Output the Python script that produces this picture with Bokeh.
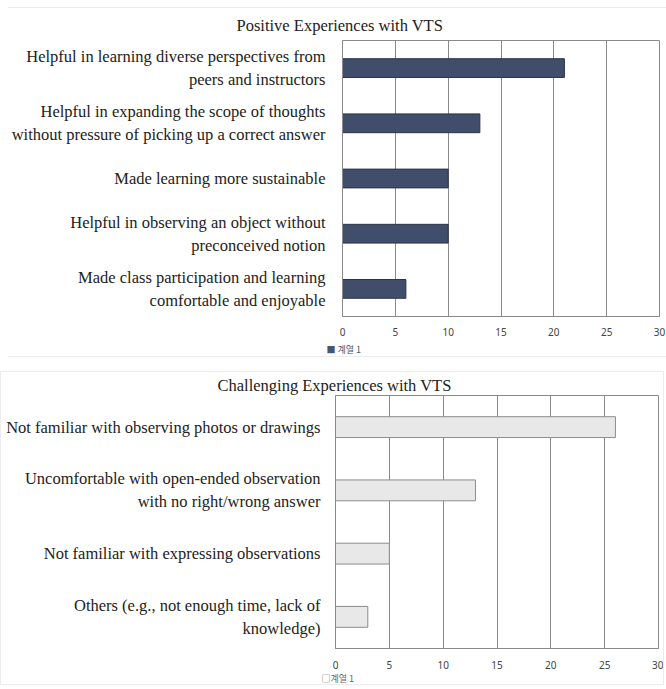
from bokeh.plotting import figure
from bokeh.models import FactorRange, FixedTicker, Range1d, Title
from bokeh.layouts import column
from bokeh.embed import file_html
from bokeh.resources import INLINE

# ---- data ----
pos_title = "Positive Experiences with VTS"
pos_labels = [
    "Helpful in learning diverse perspectives from\npeers and instructors",
    "Helpful in expanding the scope of thoughts\nwithout pressure of picking up a correct answer",
    "Made learning more sustainable",
    "Helpful in observing an object without\npreconceived notion",
    "Made class participation and learning\ncomfortable and enjoyable",
]
pos_values = [21, 13, 10, 10, 6]
pos_legend = "■ 계열 1"

neg_title = "Challenging Experiences with VTS"
neg_labels = [
    "Not familiar with observing photos or drawings",
    "Uncomfortable with open-ended observation\nwith no right/wrong answer",
    "Not familiar with expressing observations",
    "Others (e.g., not enough time, lack of\nknowledge)",
]
neg_values = [26, 13, 5, 3]
neg_legend = "□계열 1"

x_ticks = [0, 5, 10, 15, 20, 25, 30]


def make_chart(title, labels, values, legend_text, legend_color, fill, line,
               width, height, mb_left, mb_right, mb_top, mb_bottom, bar_h,
               title_offset, title_standoff, label_standoff, tick_standoff,
               legend_offset, legend_standoff, legend_valign, styles, margin):
    p = figure(
        width=width, height=height,
        y_range=FactorRange(factors=labels[::-1]),
        x_range=Range1d(x_ticks[0], x_ticks[-1]),
        output_backend="svg", toolbar_location=None,
        min_border_left=mb_left, min_border_right=mb_right,
        min_border_top=mb_top, min_border_bottom=mb_bottom,
    )
    p.styles = styles
    p.margin = margin
    p.hbar(y=labels, right=values, left=0, height=bar_h,
           fill_color=fill, line_color=line, line_width=1)

    p.title.text = title
    p.title.text_font = "Liberation Serif"
    p.title.text_font_size = "16.5px"
    p.title.text_font_style = "normal"
    p.title.text_color = "#222222"
    p.title.align = "left"
    p.title.offset = title_offset
    p.title.standoff = title_standoff

    p.outline_line_color = "#8a8a8a"
    p.outline_line_width = 1
    p.xgrid.ticker = FixedTicker(ticks=x_ticks)
    p.xgrid.grid_line_color = "#8a8a8a"
    p.xgrid.grid_line_width = 1
    p.ygrid.grid_line_color = None

    p.xaxis.ticker = FixedTicker(ticks=x_ticks)
    p.xaxis.axis_line_color = "#8a8a8a"
    p.xaxis.major_tick_line_color = None
    p.xaxis.minor_tick_line_color = None
    p.xaxis.major_label_text_font = "Noto Sans"
    p.xaxis.major_label_text_font_size = "10px"
    p.xaxis.major_label_text_color = "#444444"
    p.xaxis.major_label_standoff = tick_standoff

    p.yaxis.axis_line_color = "#8a8a8a"
    p.yaxis.major_tick_line_color = None
    p.yaxis.minor_tick_line_color = None
    p.yaxis.major_label_text_font = "Liberation Serif"
    p.yaxis.major_label_text_font_size = "16.5px"
    p.yaxis.major_label_text_color = "#222222"
    p.yaxis.major_label_standoff = label_standoff

    leg = Title(text=legend_text, align="left", offset=legend_offset,
                vertical_align=legend_valign,
                text_font="Noto Sans CJK KR", text_font_size="9px",
                text_font_style="normal", text_color=legend_color,
                standoff=legend_standoff)
    p.add_layout(leg, "below")
    p.background_fill_color = "white"
    p.border_fill_color = "white"
    return p


p1 = make_chart(pos_title, pos_labels, pos_values, pos_legend, "#4a5570",
                "#404d6b", "#2b3448",
                658, 350, 333, 7, 31, 42, 0.34, -106, 11, 11, 5, -16, 4, "bottom",
                {"border-top": "1px solid #ececec", "border-bottom": "1px solid #ececec"},
                (7, 0, 0, 8))
p2 = make_chart(neg_title, neg_labels, neg_values, neg_legend, "#666666",
                "#e8e8e8", "#8c8c8c",
                664, 314, 333, 7, 21, 37, 0.33, -118, 2, 9, 6, -14, 0, "top",
                {"border": "1px solid #ececec"},
                (14, 0, 0, 0))

layout = column(p1, p2, spacing=0)
open("out.html", "w").write(file_html(layout, INLINE))
